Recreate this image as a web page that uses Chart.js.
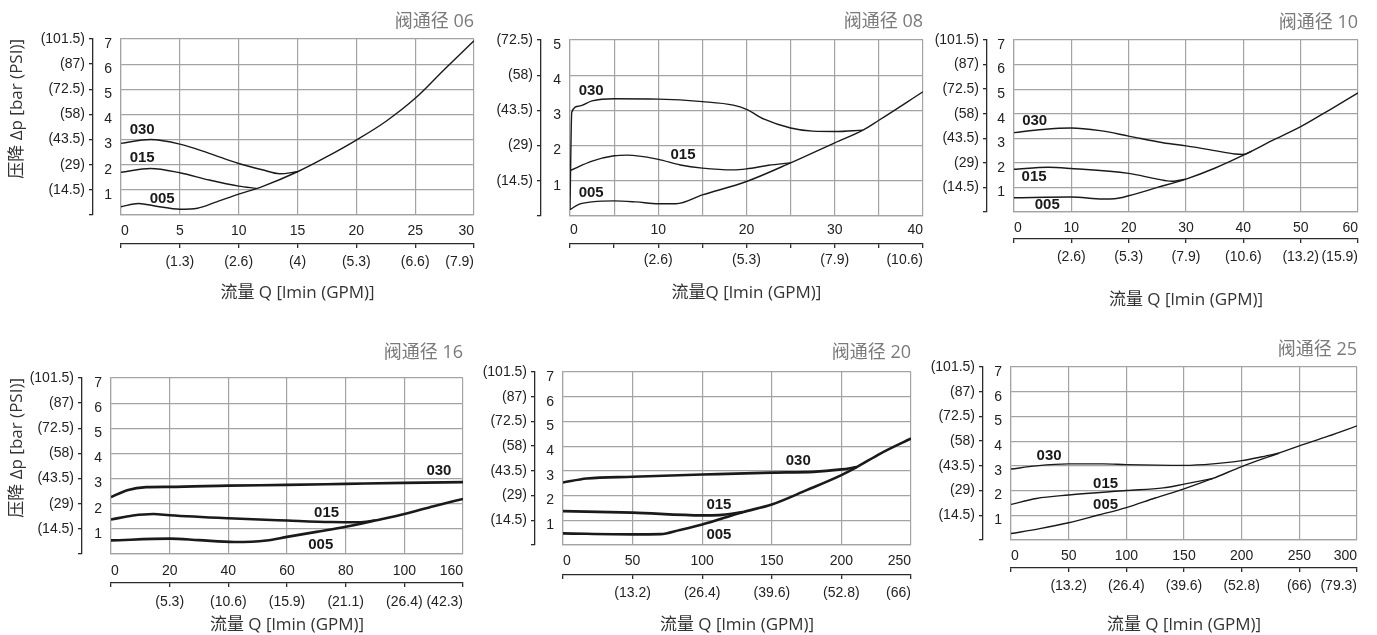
<!DOCTYPE html>
<html>
<head>
<meta charset="utf-8">
<script src="https://cdn.jsdelivr.net/npm/chart.js@4.4.1/dist/chart.umd.min.js"></script>
<style>
  body { margin: 0; background: #fff; overflow: hidden; width: 1377px; height: 635px; position: relative; }
  .cut { position: absolute; left: 4px; top: -24px; font: 18px 'Noto Sans CJK SC', sans-serif; color: #444; }
  canvas { position: absolute; }
</style>
</head>
<body>
<div class="cut">压降-流量特性曲线</div>
<script>
// ---- tick labels ----
const barLabels = ['', '1', '2', '3', '4', '5', '6', '7'];
const psiLabels = ['', '(14.5)', '(29)', '(43.5)', '(58)', '(72.5)', '(87)', '(101.5)'];
const seriesNames = ['005', '015', '030'];

const xLabels06 = ['0', '5', '10', '15', '20', '25', '30'];
const gpm06 = ['', '(1.3)', '(2.6)', '(4)', '(5.3)', '(6.6)', '(7.9)'];
const xLabels08 = ['0', '', '10', '', '20', '', '30', '', '40'];
const gpm08 = ['', '', '(2.6)', '', '(5.3)', '', '(7.9)', '', '(10.6)'];
const xLabels10 = ['0', '10', '20', '30', '40', '50', '60'];
const gpm10 = ['', '(2.6)', '(5.3)', '(7.9)', '(10.6)', '(13.2)', '(15.9)'];
const xLabels16 = ['0', '20', '40', '60', '80', '100', '160'];
const gpm16 = ['', '(5.3)', '(10.6)', '(15.9)', '(21.1)', '(26.4)', '(42.3)'];
const xLabels20 = ['0', '50', '100', '150', '200', '250'];
const gpm20 = ['', '(13.2)', '(26.4)', '(39.6)', '(52.8)', '(66)'];
const xLabels25 = ['0', '50', '100', '150', '200', '250', '300'];
const gpm25 = ['', '(13.2)', '(26.4)', '(39.6)', '(52.8)', '(66)', '(79.3)'];

// ---- series: flow Q and pressure drop dp ----
const q06_005 = [0, 1.5, 3, 5, 6.5, 8, 10, 12, 15, 17.5, 20, 22.5, 25, 27.5, 30];
const dp06_005 = [0.33, 0.46, 0.35, 0.23, 0.27, 0.5, 0.83, 1.13, 1.72, 2.32, 2.98, 3.72, 4.64, 5.8, 6.93];
const q06_015 = [0, 2.5, 5, 7.5, 10, 11.5];
const dp06_015 = [1.7, 1.85, 1.68, 1.39, 1.15, 1.06];
const q06_030 = [0, 2.5, 5, 7.5, 10, 12, 13.5, 15];
const dp06_030 = [2.85, 3.0, 2.82, 2.45, 2.05, 1.8, 1.64, 1.72];

const q08_005 = [0, 1, 2.5, 5, 7.5, 10, 12, 15, 20, 25, 30, 33.2, 35, 40];
const dp08_005 = [0.18, 0.33, 0.4, 0.43, 0.4, 0.35, 0.35, 0.6, 0.98, 1.51, 2.08, 2.44, 2.72, 3.53];
const q08_015 = [0, 2.5, 5, 6.5, 10, 12.5, 15, 18.5, 20, 22.5, 25];
const dp08_015 = [1.29, 1.56, 1.71, 1.73, 1.61, 1.45, 1.36, 1.31, 1.34, 1.44, 1.51];
const q08_030 = [0, 0.2, 1, 2.5, 5, 10, 15, 18.5, 20, 22, 25, 27.5, 30, 33.2];
const dp08_030 = [0.2, 2.95, 3.12, 3.27, 3.33, 3.32, 3.25, 3.15, 3.03, 2.75, 2.5, 2.41, 2.4, 2.44];

const q10_005 = [0, 10, 15.5, 17.5, 20, 25, 30, 35, 40, 45, 50, 55, 60];
const dp10_005 = [0.58, 0.61, 0.53, 0.54, 0.66, 1.0, 1.34, 1.78, 2.31, 2.9, 3.47, 4.15, 4.85];
const q10_015 = [0, 6, 10, 20, 25, 27.5, 30];
const dp10_015 = [1.74, 1.82, 1.77, 1.57, 1.34, 1.25, 1.34];
const q10_030 = [0, 5, 10, 15, 20, 26, 30, 35, 38.5, 40, 41.5];
const dp10_030 = [3.23, 3.36, 3.42, 3.31, 3.09, 2.82, 2.69, 2.5, 2.36, 2.34, 2.48];

const q16_005 = [0, 20, 30, 42, 53, 60, 70, 80, 90, 100, 110, 120];
const dp16_005 = [0.54, 0.61, 0.55, 0.48, 0.54, 0.68, 0.88, 1.08, 1.33, 1.59, 1.9, 2.19];
const q16_015 = [0, 7.5, 14.5, 20, 40, 60, 75, 84.5, 90];
const dp16_015 = [1.37, 1.53, 1.59, 1.54, 1.42, 1.33, 1.27, 1.26, 1.33];
const q16_030 = [0, 5.5, 12, 20, 40, 60, 80, 100, 120];
const dp16_030 = [2.26, 2.54, 2.66, 2.67, 2.72, 2.75, 2.79, 2.83, 2.86];

const q20_005 = [0, 50, 70, 84, 100, 129, 150, 175, 200, 211, 228, 250];
const dp20_005 = [0.47, 0.43, 0.44, 0.61, 0.83, 1.33, 1.64, 2.22, 2.83, 3.15, 3.7, 4.31];
const q20_015 = [0, 50, 100, 112, 129];
const dp20_015 = [1.37, 1.31, 1.2, 1.21, 1.33];
const q20_030 = [0, 17, 50, 100, 150, 180, 200, 211];
const dp20_030 = [2.53, 2.69, 2.76, 2.85, 2.93, 2.96, 3.06, 3.15];

const q25_005 = [0, 25, 50, 75, 100, 125, 150, 175, 200, 232, 250, 275, 300];
const dp25_005 = [0.26, 0.46, 0.7, 1.0, 1.31, 1.7, 2.07, 2.49, 2.97, 3.51, 3.81, 4.2, 4.62];
const q25_015 = [0, 22, 50, 100, 132, 150, 175];
const dp25_015 = [1.44, 1.68, 1.82, 2.0, 2.11, 2.26, 2.49];
const q25_030 = [0, 22, 50, 80, 100, 150, 175, 200, 218, 232];
const dp25_030 = [2.87, 3.0, 3.08, 3.08, 3.05, 3.02, 3.08, 3.21, 3.37, 3.51];

// ---- styles ----
const gridColor = '#a3a3a3';
const axisColor = '#2b2b2b';
const lineColor = '#1a1a1a';
const tickFont = { family: "'Liberation Sans', Arial, sans-serif", size: 14, lineHeight: 1.2 };
const titleFont = { family: "'Open Sans', 'Noto Sans CJK SC', sans-serif", size: 18, lineHeight: 1.2 };
const axisTitleFont = { family: "'Open Sans', 'Noto Sans CJK SC', sans-serif", size: 17, lineHeight: 1.2 };

const seriesLabels = {
  id: 'seriesLabels',
  afterDatasetsDraw(chart, args, opts) {
    const { ctx, scales: { x, y } } = chart;
    ctx.save();
    ctx.font = "bold 15px 'Liberation Sans', Arial, sans-serif";
    ctx.fillStyle = lineColor;
    ctx.textAlign = 'center';
    ctx.textBaseline = 'middle';
    opts.items.forEach((it) => ctx.fillText(it.text, x.getPixelForValue(it.x), y.getPixelForValue(it.y)));
    ctx.restore();
  }
};

const pts = (xs, ys) => xs.map((v, i) => ({ x: v, y: ys[i] }));

function build(g, s) {
  const cx = g.left;
  const cy = g.titleY - 20;
  const cw = g.plotR + 12 - cx;
  const ch = g.xTitleY + 14 - cy;
  const x2Bottom = g.xTitleY + axisTitleFont.size * 0.6;
  const th = titleFont.size * 1.2;

  const canvas = document.createElement('canvas');
  canvas.style.left = cx + 'px';
  canvas.style.top = cy + 'px';
  canvas.width = cw;
  canvas.height = ch;
  document.body.appendChild(canvas);

  const datasets = s.series.map((ser) => ({
    data: pts(ser[0], ser[1]),
    borderColor: lineColor,
    borderWidth: s.lw,
    pointRadius: 0,
    fill: false,
    cubicInterpolationMode: 'monotone',
  }));

  const labelAt = (arr, step) => (v) => {
    const t = arr[Math.round(v / step)];
    return t === undefined ? '' : t;
  };

  new Chart(canvas, {
    type: 'line',
    data: { datasets },
    plugins: [seriesLabels],
    options: {
      responsive: false,
      animation: false,
      events: [],
      layout: { padding: { left: 0, right: 12, top: 0, bottom: ch - (x2Bottom - cy) } },
      plugins: {
        legend: { display: false },
        tooltip: { enabled: false },
        title: {
          display: true,
          text: s.title,
          align: 'end',
          color: '#7a7a7a',
          font: { ...titleFont, weight: 'normal' },
          padding: { top: 20 - th / 2, bottom: g.plotT - cy - 20 - th / 2 },
        },
        seriesLabels: { items: s.labels },
      },
      scales: {
        x: {
          type: 'linear', position: 'bottom', weight: 0, min: 0, max: s.xMax,
          afterFit: (sc) => { sc.height = g.x2Y - g.plotB; },
          ticks: {
            stepSize: s.xStep, autoSkip: false, maxRotation: 0, minRotation: 0,
            align: 'inner', padding: g.xPad, font: tickFont, color: '#222',
            callback: labelAt(s.xLabels, s.xStep),
          },
          grid: { color: gridColor, lineWidth: 1.2, drawTicks: false },
          border: { color: gridColor, width: 1.2 },
        },
        x2: {
          type: 'linear', position: 'bottom', weight: 1, min: 0, max: s.xMax,
          afterFit: (sc) => { sc.height = x2Bottom - g.x2Y; },
          ticks: {
            stepSize: s.xStep, autoSkip: false, maxRotation: 0, minRotation: 0,
            align: 'inner', padding: g.gpmPad, font: tickFont, color: '#222',
            callback: labelAt(s.gpmLabels, s.xStep),
          },
          grid: { drawOnChartArea: false, drawTicks: true, tickLength: 4, color: axisColor, lineWidth: 1.3 },
          border: { display: true, color: axisColor, width: 1.3 },
          title: { display: true, text: s.xTitle, font: axisTitleFont, color: '#333', padding: { top: 0, bottom: 0 } },
        },
        y: {
          type: 'linear', position: 'left', weight: 0, min: 0, max: s.yMax,
          afterFit: (sc) => { sc.width = g.plotL - g.psiX; },
          ticks: {
            stepSize: 1, autoSkip: false, padding: 9, labelOffset: 5,
            font: tickFont, color: '#222', callback: (v) => barLabels[v] || '',
          },
          grid: { color: gridColor, lineWidth: 1.2, drawTicks: false },
          border: { color: gridColor, width: 1.2 },
        },
        y2: {
          type: 'linear', position: 'left', weight: 1, min: 0, max: s.yMax,
          afterFit: (sc) => { sc.width = g.psiX - cx; },
          ticks: {
            stepSize: 1, autoSkip: false, padding: 4,
            font: tickFont, color: '#222', callback: (v) => psiLabels[v] || '',
          },
          grid: { drawOnChartArea: false, drawTicks: true, tickLength: 4, color: axisColor, lineWidth: 1.3 },
          border: { display: true, color: axisColor, width: 1.3 },
          title: {
            display: !!s.yTitle, text: s.yTitle || '', align: 'end',
            font: axisTitleFont, color: '#333',
            padding: { top: (g.yTitleX || 17) - cx - axisTitleFont.size * 0.6, bottom: 0 },
          },
        },
      },
    },
  });
}

const yTitle = '压降 Δp [bar (PSI)]';
const xTitle = '流量 Q [lmin (GPM)]';

build(
  { left: 0, psiX: 93, plotL: 121, plotR: 474, plotT: 39, plotB: 215, titleY: 22, x2Y: 244, xTitleY: 293, xPad: 8, gpmPad: 6, yTitleX: 17 },
  { title: '阀通径 06', xTitle, yTitle, xMax: 30, xStep: 5, yMax: 7, lw: 1.4,
    xLabels: xLabels06, gpmLabels: gpm06,
    series: [[q06_005, dp06_005], [q06_015, dp06_015], [q06_030, dp06_030]],
    labels: [{ text: seriesNames[2], x: 1.8, y: 3.38 }, { text: seriesNames[1], x: 1.8, y: 2.28 }, { text: seriesNames[0], x: 3.5, y: 0.66 }] }
);
build(
  { left: 471, psiX: 541, plotL: 570, plotR: 923, plotT: 40, plotB: 216, titleY: 22, x2Y: 244, xTitleY: 293, xPad: 5.5, gpmPad: 3.5 },
  { title: '阀通径 08', xTitle: '流量Q [lmin (GPM)]', xMax: 40, xStep: 5, yMax: 5, lw: 1.4,
    xLabels: xLabels08, gpmLabels: gpm08,
    series: [[q08_005, dp08_005], [q08_015, dp08_015], [q08_030, dp08_030]],
    labels: [{ text: seriesNames[2], x: 2.4, y: 3.56 }, { text: seriesNames[1], x: 12.8, y: 1.73 }, { text: seriesNames[0], x: 2.4, y: 0.66 }] }
);
build(
  { left: 917, psiX: 987, plotL: 1014, plotR: 1358, plotT: 40, plotB: 212, titleY: 23, x2Y: 239, xTitleY: 300, xPad: 8, gpmPad: 6 },
  { title: '阀通径 10', xTitle, xMax: 60, xStep: 10, yMax: 7, lw: 1.4,
    xLabels: xLabels10, gpmLabels: gpm10,
    series: [[q10_005, dp10_005], [q10_015, dp10_015], [q10_030, dp10_030]],
    labels: [{ text: seriesNames[2], x: 3.6, y: 3.72 }, { text: seriesNames[1], x: 3.5, y: 1.41 }, { text: seriesNames[0], x: 5.8, y: 0.31 }] }
);
build(
  { left: 0, psiX: 82, plotL: 111, plotR: 463, plotT: 378, plotB: 554, titleY: 353, x2Y: 583, xTitleY: 625, xPad: 9, gpmPad: 7, yTitleX: 17 },
  { title: '阀通径 16', xTitle, yTitle, xMax: 120, xStep: 20, yMax: 7, lw: 2.6,
    xLabels: xLabels16, gpmLabels: gpm16,
    series: [[q16_005, dp16_005], [q16_015, dp16_015], [q16_030, dp16_030]],
    labels: [{ text: seriesNames[2], x: 111.8, y: 3.29 }, { text: seriesNames[1], x: 73.5, y: 1.63 }, { text: seriesNames[0], x: 71.5, y: 0.37 }] }
);
build(
  { left: 465, psiX: 535, plotL: 563, plotR: 911, plotT: 372, plotB: 545, titleY: 353, x2Y: 575, xTitleY: 625, xPad: 8, gpmPad: 5.5 },
  { title: '阀通径 20', xTitle, xMax: 250, xStep: 50, yMax: 7, lw: 2.6,
    xLabels: xLabels20, gpmLabels: gpm20,
    series: [[q20_005, dp20_005], [q20_015, dp20_015], [q20_030, dp20_030]],
    labels: [{ text: seriesNames[2], x: 169, y: 3.4 }, { text: seriesNames[1], x: 112, y: 1.62 }, { text: seriesNames[0], x: 112, y: 0.4 }] }
);
build(
  { left: 913, psiX: 983, plotL: 1011, plotR: 1357, plotT: 367, plotB: 540, titleY: 350, x2Y: 568, xTitleY: 625, xPad: 8, gpmPad: 6 },
  { title: '阀通径 25', xTitle, xMax: 300, xStep: 50, yMax: 7, lw: 1.4,
    xLabels: xLabels25, gpmLabels: gpm25,
    series: [[q25_005, dp25_005], [q25_015, dp25_015], [q25_030, dp25_030]],
    labels: [{ text: seriesNames[2], x: 33, y: 3.4 }, { text: seriesNames[1], x: 82, y: 2.29 }, { text: seriesNames[0], x: 82, y: 1.44 }] }
);
</script>
</body>
</html>
